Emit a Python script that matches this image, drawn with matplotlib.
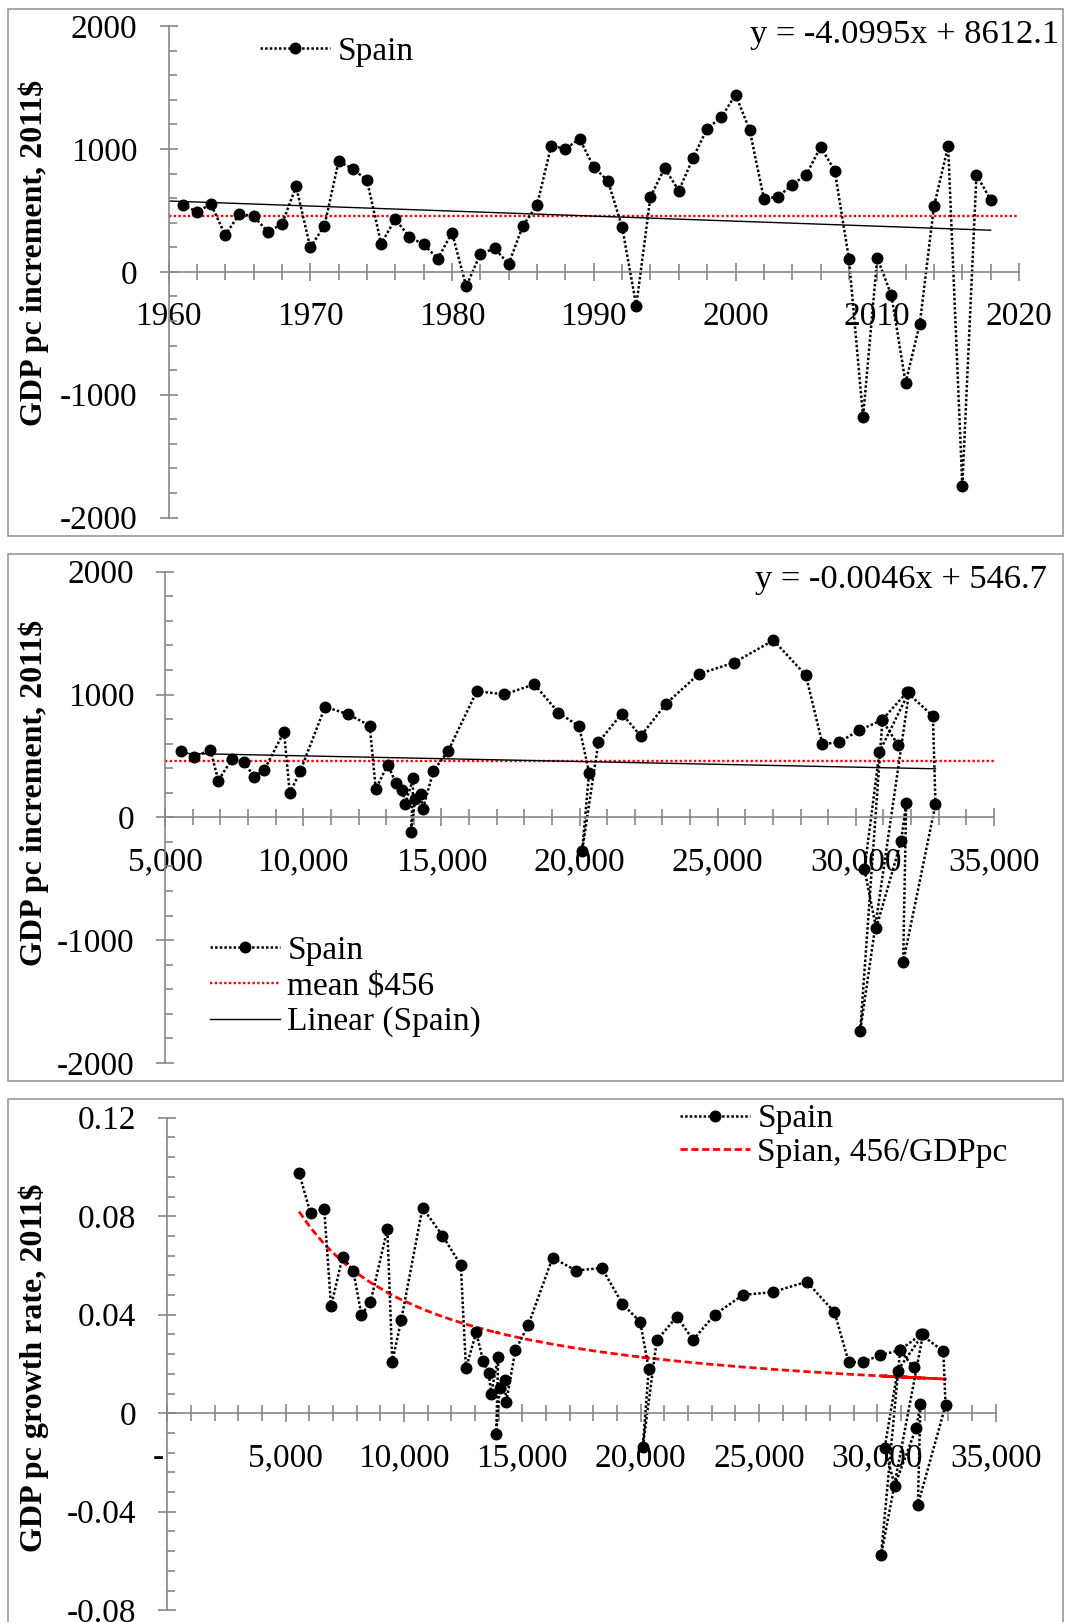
import numpy as np
import matplotlib
matplotlib.use("Agg")
import matplotlib.pyplot as plt
from matplotlib.patches import Rectangle
from matplotlib.ticker import MultipleLocator, FuncFormatter

W, H, DPI = 1065, 1622, 100

plt.rcParams['font.family'] = ['Liberation Serif', 'DejaVu Serif']
plt.rcParams['axes.unicode_minus'] = False

# ---- data: Spain, GDP per capita (2011$) ----
years = np.arange(1961, 2019)
increment = [544, 491, 550, 300, 471, 454, 328, 387, 696, 199,
             376, 900, 839, 746, 230, 429, 283, 224, 107, 320,
             -118, 146, 191, 65, 376, 544, 1027, 1001, 1083, 853,
             741, 365, -275, 611, 844, 662, 926, 1167, 1259, 1442,
             1156, 597, 611, 710, 791, 1018, 825, 107, -1181, 115,
             -191, -903, -424, 533, 1024, -1742, 791, 586]
gdp_pc = [5572, 6054, 6633, 6923, 7408, 7864, 8204, 8588, 9301, 9508,
          9891, 10786, 11629, 12404, 12621, 13056, 13345, 13584, 13682, 13983,
          13899, 14044, 14251, 14323, 14707, 15250, 16278, 17277, 18363, 19233,
          19982, 20344, 20091, 20681, 21528, 22216, 23132, 24316, 25583, 27017,
          28190, 28791, 29395, 30120, 30941, 31847, 32788, 32882, 31712, 31821,
          31640, 30735, 30311, 30854, 31930, 30156, 30960, 31532]
mean_increment = 456
trend_year = (-4.0995, 8612.1)    # slope, intercept vs. year
trend_gdp = (-0.0046, 546.7)      # slope, intercept vs. GDP pc

increment = np.array(increment, dtype=float)
gdp_pc = np.array(gdp_pc, dtype=float)
growth_rate = increment / gdp_pc
baseline_rate = mean_increment / gdp_pc

FS = 24
FS_EQ = 24.8
FS_LABEL = 23
GRAY = '#878787'
BORDER = '#8f8f8f'

fig = plt.figure(figsize=(W / DPI, H / DPI), dpi=DPI)


def px_axes(x0, x1, ytop, ybot):
    return fig.add_axes([x0 / W, 1 - ybot / H, (x1 - x0) / W, (ybot - ytop) / H])


def frame(ytop, ybot):
    fig.add_artist(Rectangle((7.6 / W, 1 - ybot / H), (1063 - 7.6) / W, (ybot - ytop) / H,
                             transform=fig.transFigure, fill=False,
                             edgecolor=BORDER, lw=1.1))


def style(ax, xlim, ylim, xmaj, xmin, ymaj, ymin, xfmt, yfmt):
    ax.set_xlim(*xlim)
    ax.set_ylim(*ylim)
    ax.patch.set_visible(False)
    for s in ('top', 'right'):
        ax.spines[s].set_visible(False)
    ax.spines['bottom'].set_position(('data', 0))
    for s in ('bottom', 'left'):
        ax.spines[s].set_color(GRAY)
        ax.spines[s].set_linewidth(1.2)
    ax.xaxis.set_major_locator(MultipleLocator(xmaj))
    ax.xaxis.set_minor_locator(MultipleLocator(xmin))
    ax.yaxis.set_major_locator(MultipleLocator(ymaj))
    ax.yaxis.set_minor_locator(MultipleLocator(ymin))
    ax.xaxis.set_major_formatter(FuncFormatter(xfmt))
    ax.yaxis.set_major_formatter(FuncFormatter(yfmt))
    ax.tick_params(axis='x', which='major', direction='inout', length=12.5, width=1.2,
                   color=GRAY, pad=15, labelsize=FS)
    ax.tick_params(axis='x', which='minor', direction='inout', length=11, width=1.2,
                   color=GRAY)
    ax.tick_params(axis='y', which='major', direction='inout', length=12.5, width=1.2,
                   color=GRAY, pad=16, labelsize=FS)
    ax.tick_params(axis='y', which='minor', direction='in', length=5.5, width=1.2,
                   color=GRAY)


def fmt_int(v, p):
    return f'{v:.0f}'


def fmt_thousands(v, p):
    return f'{v:,.0f}'


def fmt_thousands_dash(v, p):
    return '-  ' if abs(v) < 1e-9 else f'{v:,.0f}'


def fmt_rate(v, p):
    return '0' if abs(v) < 1e-9 else f'{v:.2f}'


series_kw = dict(color='black', linestyle=(0, (1, 0.85)), lw=1.8,
                 marker='o', markersize=7.6, markerfacecolor='black',
                 markeredgecolor='black')
mean_kw = dict(color='red', linestyle=(0, (1, 1.0)), lw=1.7)
trend_kw = dict(color='black', lw=1.0)


def legend(ax, handles, labels, x_px, ytop_px, spacing):
    return ax.legend(handles, labels, loc='upper left',
                     bbox_to_anchor=(x_px / W, 1 - ytop_px / H),
                     bbox_transform=fig.transFigure, frameon=False,
                     fontsize=FS, handlelength=2.1, handletextpad=0.22,
                     borderpad=0, borderaxespad=0, labelspacing=spacing)


# ---- panel 1: increment vs. year ----
frame(8.6, 536)
ax1 = px_axes(168.5, 1019, 26.2, 517.6)
style(ax1, (1960, 2020), (-2000, 2000), 10, 2, 1000, 200, fmt_int, fmt_int)
ax1.plot([1960, 2020], [mean_increment] * 2, **mean_kw)
tx = np.array([1960, years[-1]])
ax1.plot(tx, trend_year[0] * tx + trend_year[1], **trend_kw)
l_spain1, = ax1.plot(years, increment, **series_kw)
legend(ax1, [l_spain1], ['Spain'], 260, 36.5, 0.2)
fig.text(1059 / W, 1 - 34.4 / H, 'y = -4.0995x + 8612.1', ha='right', va='center',
         fontsize=FS_EQ)
fig.text(33.6 / W, 1 - 253 / H, 'GDP pc increment, 2011$', rotation=90,
         ha='center', va='center', fontsize=FS_LABEL, fontweight='bold')

# ---- panel 2: increment vs. GDP per capita ----
frame(553.8, 1080.6)
ax2 = px_axes(165.2, 994, 571.7, 1063)
style(ax2, (5000, 35000), (-2000, 2000), 5000, 1000, 1000, 200, fmt_thousands, fmt_int)
m2, = ax2.plot([5000, 35000], [mean_increment] * 2, **mean_kw)
gx = np.array([gdp_pc.min(), gdp_pc.max()])
t2, = ax2.plot(gx, trend_gdp[0] * gx + trend_gdp[1], **trend_kw)
l_spain2, = ax2.plot(gdp_pc, increment, **series_kw)
legend(ax2, [l_spain2, m2, t2], ['Spain', 'mean $456', 'Linear (Spain)'], 210, 935, 0.16)
fig.text(1047 / W, 1 - 579.6 / H, 'y = -0.0046x + 546.7', ha='right', va='center',
         fontsize=FS_EQ)
fig.text(33.6 / W, 1 - 793 / H, 'GDP pc increment, 2011$', rotation=90,
         ha='center', va='center', fontsize=FS_LABEL, fontweight='bold')

# ---- panel 3: growth rate vs. GDP per capita ----
frame(1098.8, 1660)
ax3 = px_axes(167.2, 995.7, 1117.7, 1610.2)
style(ax3, (0, 35000), (-0.08, 0.12), 5000, 1000, 0.04, 0.008, fmt_thousands_dash, fmt_rate)
b3, = ax3.plot(gdp_pc, baseline_rate, color='red', linestyle=(0, (2.6, 1.3)), lw=2.0)
l_spain3, = ax3.plot(gdp_pc, growth_rate, **series_kw)
legend(ax3, [l_spain3, b3], ['Spain', 'Spian, 456/GDPpc'], 680, 1104, 0.075)
fig.text(33.6 / W, 1 - 1368 / H, 'GDP pc growth rate, 2011$', rotation=90,
         ha='center', va='center', fontsize=FS_LABEL, fontweight='bold')

fig.savefig('out.png', dpi=DPI)
